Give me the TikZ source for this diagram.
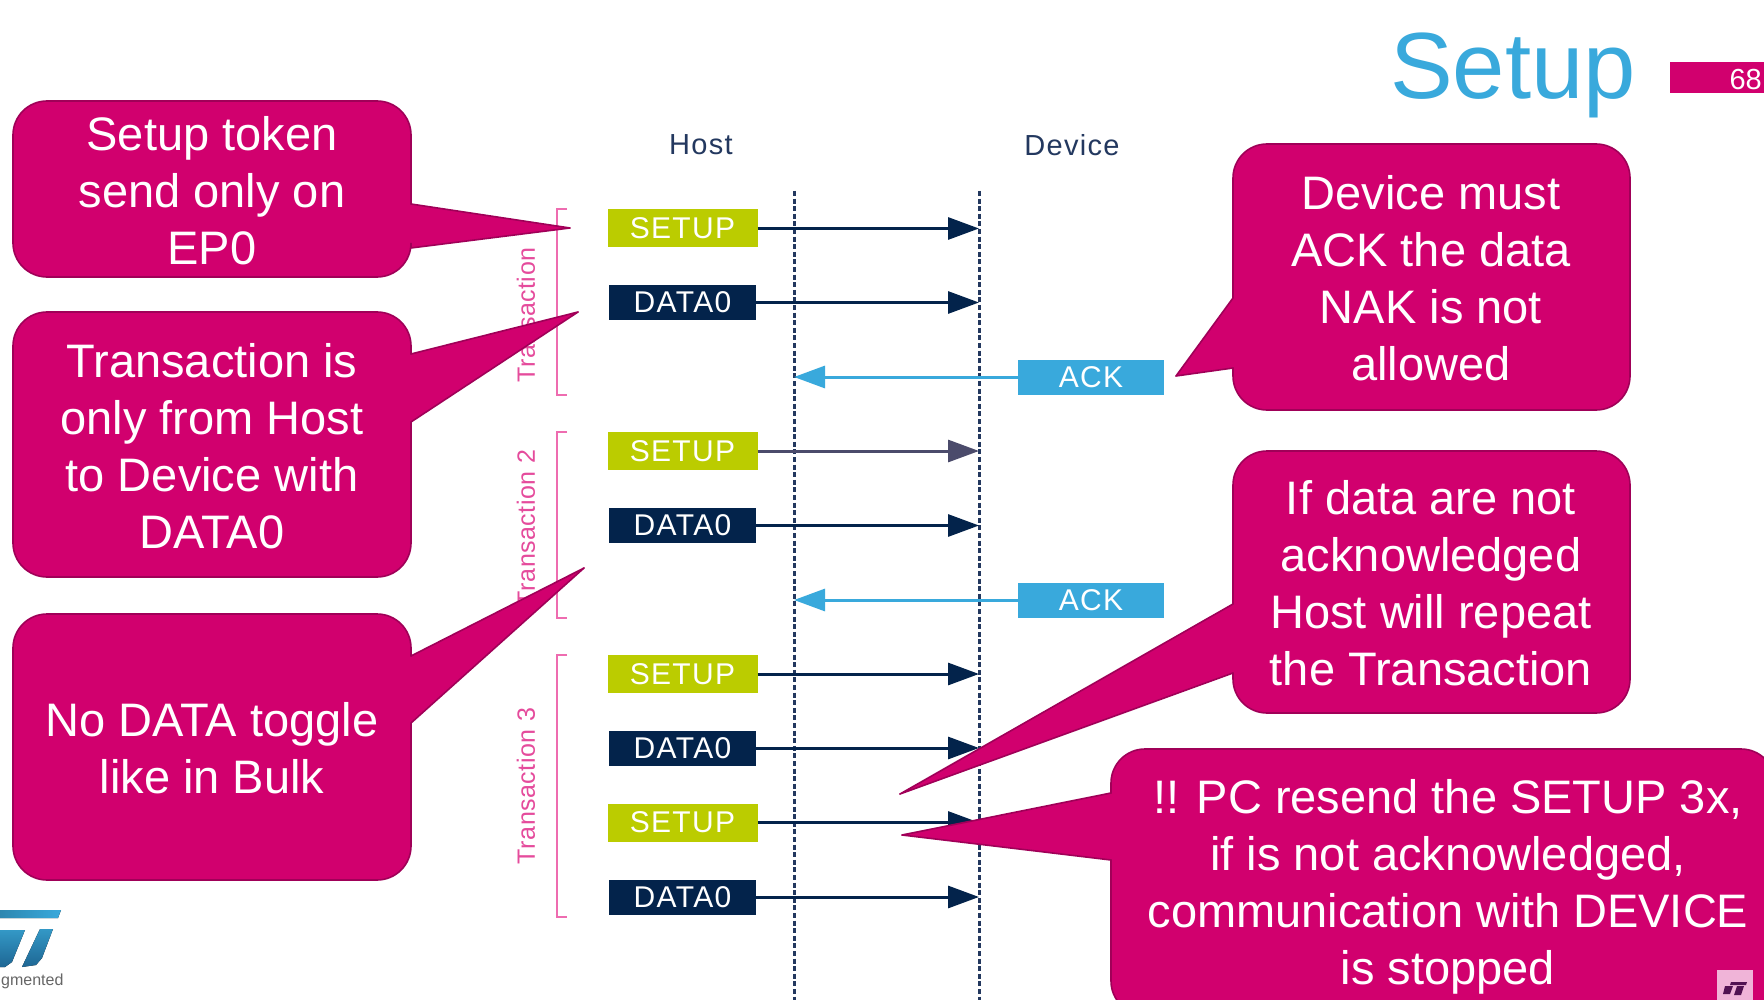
\documentclass[tikz,border=0pt]{standalone}
\usepackage{fontspec}
\setmainfont{Liberation Sans}
\newfontfamily\spaced[LetterSpace=4.5]{Liberation Sans}
\newfontfamily\spacedl[LetterSpace=2]{Liberation Sans}
\usetikzlibrary{arrows.meta}
\definecolor{mag}{HTML}{D1006E}
\definecolor{magb}{HTML}{A00058}
\definecolor{navy}{HTML}{03234B}
\definecolor{lime}{HTML}{BBCC00}
\definecolor{sky}{HTML}{39A9DC}
\definecolor{pinkl}{HTML}{EE6CB0}
\definecolor{grayn}{HTML}{4B4B6B}
\definecolor{life}{HTML}{23385F}
\definecolor{tagp}{HTML}{F0B4D8}
\tikzset{
  callout/.style={fill=mag,draw=magb,line width=1.6pt},
  calltext/.style={text=white,align=center,inner sep=0pt,font=\fontsize{47}{57}\selectfont},
  pack/.style={inner sep=0pt,outer sep=0pt,text=white,font=\spaced\fontsize{30}{34}\selectfont},
  setupbox/.style={pack,fill=lime,minimum height=38pt,minimum width=150pt},
  databox/.style={pack,fill=navy,minimum height=35pt,minimum width=147pt},
  ackbox/.style={pack,fill=sky,minimum height=35pt,minimum width=146pt},
  flow/.style={line width=3pt,-{Triangle[length=31pt,width=22pt]}},
  lifeline/.style={line width=3pt,life,dash pattern=on 5pt off 2.6pt},
  brack/.style={pinkl,line width=2pt},
  lanetitle/.style={text=life,font=\spaced\fontsize{29}{32}\selectfont,inner sep=0pt},
  tlabel/.style={rotate=90,text=pinkl!70!mag,inner sep=0pt,font=\spacedl\fontsize{25}{28}\selectfont}
}
\begin{document}
\begin{tikzpicture}[x=1pt,y=-1pt]
\clip (0,0) rectangle (1764,1000);
\fill[white] (0,0) rectangle (1764,1000);

% title and page tag
\node[anchor=base west,inner sep=0pt,text=sky,font=\fontsize{94}{100}\selectfont] (title) at (1390,99) {Setup};
\fill[mag] (1670,62) rectangle (1764,93);
\node[anchor=base east,inner sep=0pt,text=white,font=\fontsize{29}{30}\selectfont] (page) at (1762,90) {68};

% lane titles
\node[lanetitle] (host) at (701,145) {Host};
\node[lanetitle] (device) at (1072,145) {Device};

% lifelines
\coordinate (H0) at (794,191); \coordinate (H1) at (794,1000);
\coordinate (D0) at (979,191); \coordinate (D1) at (979,1000);
\draw[lifeline] (H0) -- (H1);
\draw[lifeline] (D0) -- (D1);

% packets
\node[setupbox] (s1) at (682.5,228.5) {SETUP};
\node[databox]  (d1) at (682.5,302.5) {DATA0};
\node[ackbox]   (a1) at (1091,377)  {ACK};
\node[setupbox] (s2) at (682.5,451)   {SETUP};
\node[databox]  (d2) at (682.5,525.5) {DATA0};
\node[ackbox]   (a2) at (1091,600)  {ACK};
\node[setupbox] (s3) at (682.5,674)   {SETUP};
\node[databox]  (d3) at (682.5,748)   {DATA0};
\node[setupbox] (s4) at (682.5,822.5) {SETUP};
\node[databox]  (d4) at (682.5,897)   {DATA0};

% arrows
\draw[flow,navy] (s1) -- (s1 -| D0);
\draw[flow,navy] (d1) -- (d1 -| D0);
\draw[flow,sky]  (a1) -- (a1 -| H0);
\draw[flow,grayn] (s2) -- (s2 -| D0);
\draw[flow,navy] (d2) -- (d2 -| D0);
\draw[flow,sky]  (a2) -- (a2 -| H0);
\draw[flow,navy] (s3) -- (s3 -| D0);
\draw[flow,navy] (d3) -- (d3 -| D0);
\draw[flow,navy] (s4) -- (s4 -| D0);
\draw[flow,navy] (d4) -- (d4 -| D0);

% transaction brackets
\draw[brack] (567,209) -- (557,209) -- (557,395) -- (567,395);
\draw[brack] (567,432) -- (557,432) -- (557,618) -- (567,618);
\draw[brack] (567,655) -- (557,655) -- (557,917) -- (567,917);
\node[tlabel] (t1) at (526,315) {Transaction};
\node[tlabel] (t2) at (526,528) {Transaction 2};
\node[tlabel] (t3) at (526,786) {Transaction 3};

% callouts
\def\rc{34pt}
\draw[callout,rounded corners=\rc] (200,101) -- (411,101) [rounded corners=0.1pt] -- (411,204) -- (570,228) -- (411,248) [rounded corners=\rc] -- (411,277) -- (13,277) -- (13,101) -- cycle;
\draw[callout,rounded corners=\rc] (200,312) -- (411,312) [rounded corners=0.1pt] -- (411,354) -- (578,312) -- (411,422) [rounded corners=\rc] -- (411,577) -- (13,577) -- (13,312) -- cycle;
\draw[callout,rounded corners=\rc] (200,614) -- (411,614) [rounded corners=0.1pt] -- (411,656) -- (584,568) -- (411,723) [rounded corners=\rc] -- (411,880) -- (13,880) -- (13,614) -- cycle;
\draw[callout,rounded corners=\rc] (1430,144) -- (1630,144) -- (1630,410) -- (1233,410) [rounded corners=0.1pt] -- (1233,368) -- (1176,376) -- (1233,298) [rounded corners=\rc] -- (1233,144) -- cycle;
\draw[callout,rounded corners=\rc] (1430,451) -- (1630,451) -- (1630,713) -- (1233,713) [rounded corners=0.1pt] -- (1233,673) -- (900,794) -- (1233,604) [rounded corners=\rc] -- (1233,451) -- cycle;
\draw[callout,rounded corners=\rc] (1430,749) -- (1775,749) -- (1775,1015) -- (1111,1015) [rounded corners=0.1pt] -- (1111,860) -- (902,835) -- (1111,793) [rounded corners=\rc] -- (1111,749) -- cycle;

\node[calltext] (c1) at (212,191) {Setup token\\send only on\\EP0};
\node[calltext] (c2) at (212,446) {Transaction is\\only from Host\\to Device with\\DATA0};
\node[calltext] (c3) at (212,748) {No DATA toggle\\like in Bulk};
\node[calltext] (c4) at (1431,278) {Device must\\ACK the data\\NAK is not\\allowed};
\node[calltext] (c5) at (1431,583) {If data are not\\acknowledged\\Host will repeat\\the Transaction};
\node[calltext] (c6) at (1448,887) {!! PC resend the SETUP 3x,\\if is not acknowledged,\\communication with DEVICE\\is stopped};

% small ST tag
\fill[tagp] (1717,970) rectangle (1753,1000);
\fill[magb!50!navy] (1731,982) -- (1747,982) -- (1746,985) -- (1730,985) -- cycle;
\fill[magb!50!navy] (1725,986) -- (1733,986) -- (1730,994) -- (1723,994) -- cycle;
\fill[magb!50!navy] (1737,986) -- (1744,986) -- (1741,995) -- (1734,995) -- cycle;

% ST logo
\fill[left color=sky!80!black,right color=sky] (0,910) -- (61,910) -- (58,918) -- (0,918) -- cycle;
\fill[top color=sky!90!black,bottom color=sky!50!navy] (0,930) -- (25,930) -- (12,962) -- (5,967) -- (0,967) -- cycle;
\fill[top color=sky!90!black,bottom color=sky!50!navy] (40,929) -- (53,929) -- (42,958) -- (36,965) -- (22,967) -- cycle;
\node[anchor=base west,inner sep=0pt,text=black!60,font=\fontsize{16}{20}\selectfont] (logotext) at (1,985) {gmented};
\end{tikzpicture}
\end{document}
